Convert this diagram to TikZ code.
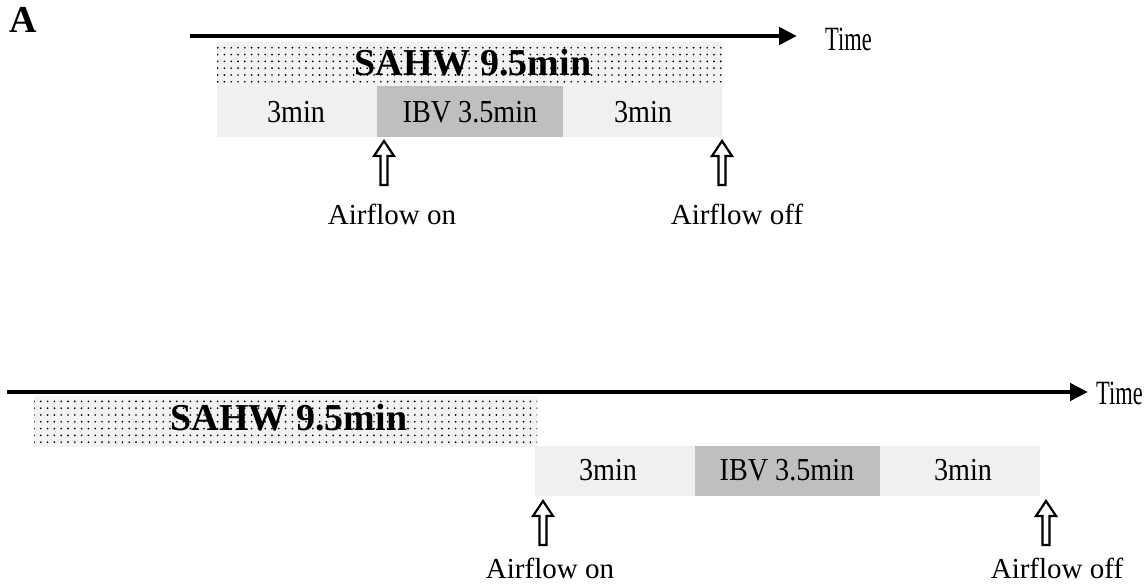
\documentclass[tikz,border=0pt]{standalone}
\usepackage{fontspec}
\setmainfont{Liberation Serif}
\newfontfamily\cond[FakeStretch=0.88]{Liberation Serif}
\newfontfamily\condt[FakeStretch=0.66]{Liberation Serif}
\usetikzlibrary{arrows.meta,patterns.meta}
\definecolor{lightrow}{HTML}{F0F0F0}
\definecolor{ibvgrey}{HTML}{BFBFBF}
\definecolor{dotbg}{HTML}{F2F2F2}
\tikzset{
  timeline/.style={line width=4.5pt,-{Triangle[length=18pt,width=17pt]}},
  sahwbox/.style={draw=none,fill=dotbg,postaction={pattern={Dots[radius=0.95pt,distance=6.8pt]},pattern color=black},inner sep=0,anchor=north west},
  rowbox/.style={draw=none,fill=lightrow,inner sep=0,anchor=north west},
  ibvbox/.style={draw=none,fill=ibvgrey,inner sep=0,anchor=north west},
  sahwtxt/.style={font=\fontsize{38}{40}\selectfont\bfseries,inner sep=0},
  rowtxt/.style={font=\cond\fontsize{32}{34}\selectfont,inner sep=0},
  timetxt/.style={font=\condt\fontsize{34}{36}\selectfont,inner sep=0,anchor=west},
  flowtxt/.style={font=\fontsize{29}{31}\selectfont,inner sep=0},
  blockup/.pic={\draw[line width=2.2pt,fill=white,line join=miter] (0,0) -- (10,15) -- (3.5,15) -- (3.5,44) -- (-3.5,44) -- (-3.5,15) -- (-10,15) -- cycle;},
}
\begin{document}
\begin{tikzpicture}[x=1pt,y=-1pt]
\useasboundingbox (0,0) rectangle (1145,585);
% panel label
\node[font=\fontsize{38}{40}\selectfont\bfseries,inner sep=0] (lblA) at (23,20) {A};

% ===== top panel =====
\coordinate (t1s) at (190,36);
\coordinate (t1e) at (797,36);
\node[sahwbox,minimum width=505,minimum height=44] (sahw1) at (217,42) {};
\node[rowbox,minimum width=505,minimum height=51] (row1) at (217,86) {};
\node[ibvbox,minimum width=186,minimum height=51] (ibv1) at (377,86) {};
\draw[timeline] (t1s) -- (t1e);
\node[timetxt] (time1) at (825,39) {Time};
\node[sahwtxt] (sahwt1) at (473,63) {SAHW 9.5min};
\node[rowtxt] (a1) at (296,112) {3min};
\node[rowtxt] (b1) at (470,112) {IBV 3.5min};
\node[rowtxt] (c1) at (643,112) {3min};
\pic (up1) at (384,141) {blockup};
\pic (up2) at (722,141) {blockup};
\node[flowtxt] (on1) at (392,214) {Airflow on};
\node[flowtxt] (off1) at (737,214) {Airflow off};

% ===== bottom panel =====
\coordinate (t2s) at (7,392);
\coordinate (t2e) at (1088,392);
\node[sahwbox,minimum width=503,minimum height=51] (sahw2) at (34,396) {};
\node[rowbox,minimum width=505,minimum height=50] (row2) at (535,446) {};
\node[ibvbox,minimum width=185,minimum height=50] (ibv2) at (695,446) {};
\draw[timeline] (t2s) -- (t2e);
\node[timetxt] (time2) at (1096,393) {Time};
\node[sahwtxt] (sahwt2) at (289,418) {SAHW 9.5min};
\node[rowtxt] (a2) at (608,470) {3min};
\node[rowtxt] (b2) at (787,470) {IBV 3.5min};
\node[rowtxt] (c2) at (963,470) {3min};
\pic (up3) at (543,501) {blockup};
\pic (up4) at (1046,501) {blockup};
\node[flowtxt] (on2) at (550,568) {Airflow on};
\node[flowtxt] (off2) at (1057,568) {Airflow off};
\end{tikzpicture}
\end{document}
